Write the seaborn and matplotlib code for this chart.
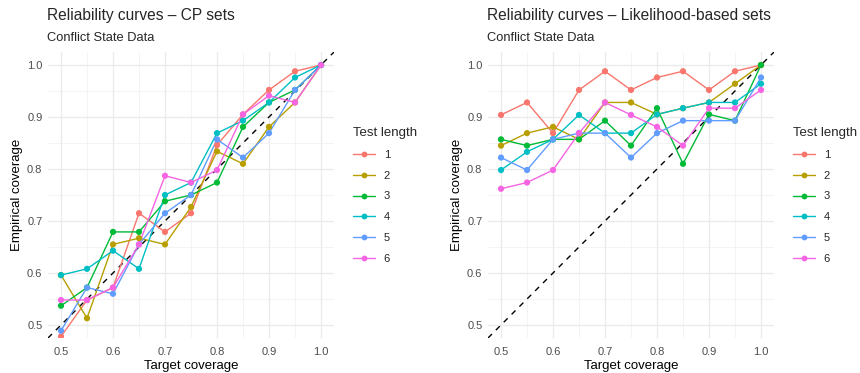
import numpy as np
import pandas as pd
import matplotlib
matplotlib.use("Agg")
import matplotlib.pyplot as plt
import seaborn as sns
from matplotlib.ticker import MultipleLocator

# target coverage levels
target = [0.50, 0.55, 0.60, 0.65, 0.70, 0.75, 0.80, 0.85, 0.90, 0.95, 1.00]
test_lengths = ["1", "2", "3", "4", "5", "6"]

# CP sets - empirical coverage per test length
cp_1 = [0.478, 0.548, 0.572, 0.715, 0.679, 0.715, 0.846, 0.905, 0.952, 0.988, 1.000]
cp_2 = [0.596, 0.513, 0.655, 0.667, 0.655, 0.727, 0.834, 0.810, 0.881, 0.928, 1.000]
cp_3 = [0.537, 0.572, 0.679, 0.679, 0.738, 0.750, 0.774, 0.881, 0.928, 0.952, 1.000]
cp_4 = [0.596, 0.608, 0.643, 0.608, 0.750, 0.774, 0.869, 0.893, 0.928, 0.976, 1.000]
cp_5 = [0.489, 0.572, 0.560, 0.655, 0.715, 0.750, 0.857, 0.822, 0.869, 0.952, 1.000]
cp_6 = [0.548, 0.548, 0.572, 0.655, 0.787, 0.774, 0.798, 0.905, 0.941, 0.928, 1.000]

# likelihood-based sets
lb_1 = [0.904, 0.928, 0.869, 0.952, 0.988, 0.952, 0.976, 0.988, 0.952, 0.988, 1.000]
lb_2 = [0.845, 0.869, 0.881, 0.857, 0.928, 0.928, 0.905, 0.917, 0.928, 0.964, 1.000]
lb_3 = [0.857, 0.845, 0.857, 0.857, 0.893, 0.845, 0.917, 0.810, 0.905, 0.893, 1.000]
lb_4 = [0.798, 0.833, 0.857, 0.904, 0.869, 0.869, 0.905, 0.917, 0.928, 0.928, 0.964]
lb_5 = [0.822, 0.798, 0.857, 0.869, 0.869, 0.822, 0.869, 0.893, 0.893, 0.893, 0.976]
lb_6 = [0.762, 0.774, 0.798, 0.869, 0.928, 0.904, 0.881, 0.845, 0.917, 0.917, 0.952]

palette = ["#F8766D", "#B79F00", "#00BA38", "#00BFC4", "#619CFF", "#F564E3"]


def to_long(series):
    rows = []
    for name, vals in zip(test_lengths, series):
        for t, v in zip(target, vals):
            rows.append({"target": t, "coverage": v, "length": name})
    return pd.DataFrame(rows)


cp_df = to_long([cp_1, cp_2, cp_3, cp_4, cp_5, cp_6])
lb_df = to_long([lb_1, lb_2, lb_3, lb_4, lb_5, lb_6])

sns.set_theme(style="white")
plt.rcParams["font.family"] = ["Liberation Sans", "DejaVu Sans"]

fig = plt.figure(figsize=(8.6, 3.73), dpi=100)
W, H = 860, 373


def panel(left, df, title):
    ax = fig.add_axes([left / W, 1 - 338 / H, 286 / W, 286 / H])
    ax.axline((0.5, 0.5), slope=1, color="black", lw=1.0, ls=(0, (4, 4)), zorder=1)
    sns.lineplot(data=df, x="target", y="coverage", hue="length", palette=palette,
                 hue_order=test_lengths, lw=1.0, ax=ax, legend=False, zorder=2)
    sns.scatterplot(data=df, x="target", y="coverage", hue="length", palette=palette,
                    hue_order=test_lengths, s=20, linewidth=0, ax=ax, legend=False, zorder=3)
    ax.set_xlim(0.475, 1.025)
    ax.set_ylim(0.475, 1.025)
    ax.xaxis.set_major_locator(MultipleLocator(0.1))
    ax.yaxis.set_major_locator(MultipleLocator(0.1))
    ax.xaxis.set_minor_locator(MultipleLocator(0.05))
    ax.yaxis.set_minor_locator(MultipleLocator(0.05))
    ax.grid(which="major", color="#EBEBEB", lw=1.0)
    ax.grid(which="minor", color="#F2F2F2", lw=0.6)
    ax.set_axisbelow(True)
    for s in ax.spines.values():
        s.set_visible(False)
    ax.tick_params(which="both", length=0, labelsize=8.0, colors="#4D4D4D")
    ax.tick_params(axis="x", pad=6.5)
    ax.tick_params(axis="y", pad=4)
    ax.set_xticklabels([f"{v:.1f}" for v in ax.get_xticks()])
    ax.set_yticklabels([f"{v:.1f}" for v in ax.get_yticks()])
    ax.set_xlabel("Target coverage", fontsize=9.5, color="black", labelpad=2.5)
    ax.set_ylabel("Empirical coverage", fontsize=9.5, color="black", labelpad=3)
    ax.text(-0.005, 1 + 32 / 286, title, transform=ax.transAxes, fontsize=11.2,
            va="baseline", ha="left")
    ax.text(-0.005, 1 + 11.3 / 286, "Conflict State Data", transform=ax.transAxes,
            fontsize=9.3, va="baseline", ha="left")

    handles = [plt.Line2D([], [], color=c, lw=1.0, marker="o", markersize=4.2,
                          markeredgewidth=0) for c in palette]
    ax.legend(handles, test_lengths, title="Test length", loc="upper left",
              bbox_to_anchor=(1.05, 0.753), frameon=False, fontsize=8.0,
              title_fontsize=9.5, handlelength=2.0, labelspacing=0.97,
              handletextpad=0.8, alignment="left", borderaxespad=0)
    return ax


panel(48, cp_df, "Reliability curves \u2013 CP sets")
panel(488, lb_df, "Reliability curves \u2013 Likelihood-based sets")

fig.savefig("out.png", dpi=100)
